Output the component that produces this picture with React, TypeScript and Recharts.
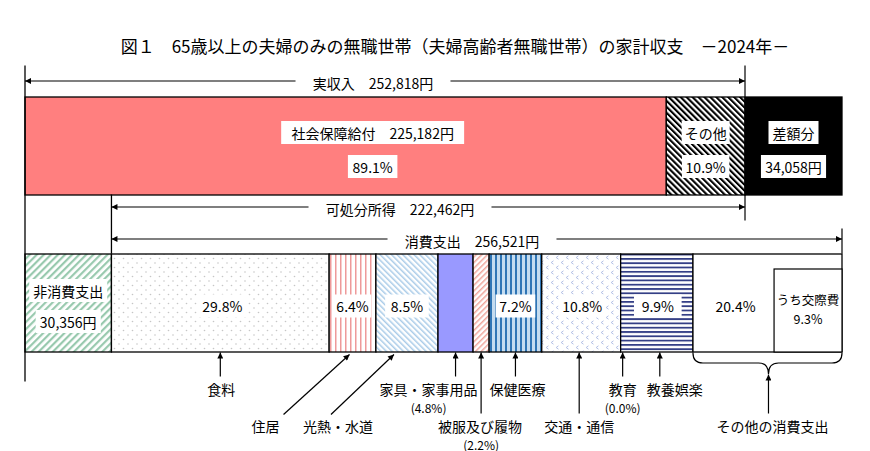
import React from "react"
import { BarChart, Bar, XAxis, YAxis } from "recharts"

// ---- data (円 / %) ----
const realIncome = 252818
const incomeNames = ["社会保障給付", "その他", "差額分"]
const incomeValues = [225182, 27636, 34058]
const incomeShares = [89.1, 10.9]
const disposableIncome = 222462

const nonConsumption = 30356
const consumption = 256521
const consumptionNames = [
  "食料",
  "住居",
  "光熱・水道",
  "家具・家事用品",
  "被服及び履物",
  "保健医療",
  "交通・通信",
  "教育",
  "教養娯楽",
  "その他の消費支出"
]
const consumptionShares = [29.8, 6.4, 8.5, 4.8, 2.2, 7.2, 10.8, 0.0, 9.9, 20.4]
const socialExpenseShare = 9.3 // うち交際費

const title = "図１　65歳以上の夫婦のみの無職世帯（夫婦高齢者無職世帯）の家計収支　－2024年－"

// ---- layout ----
const W = 870
const H = 451
const MARGIN = { top: 67, right: 28, bottom: 70, left: 25 }
const BAR_SIZE = 98
const FONT = "'Noto Sans CJK JP', 'Noto Sans', sans-serif"

const incomeKeys = incomeValues.map((_, i) => `inc${i}`)
const spendKeys = ["non", ...consumptionShares.map((_, i) => `c${i}`)]
const consumptionValues = consumptionShares.map((s) => (s / 100) * consumption)

const incomeRow: any = { row: "収入" }
incomeKeys.forEach((k, i) => (incomeRow[k] = incomeValues[i]))
const spendRow: any = { row: "支出", non: nonConsumption }
consumptionValues.forEach((v, i) => (spendRow[`c${i}`] = v))
const rows = [incomeRow, spendRow]

const TOTAL = Math.max(
  incomeValues.reduce((a, b) => a + b, 0),
  nonConsumption + consumptionValues.reduce((a, b) => a + b, 0)
)

const PLOT_W = W - MARGIN.left - MARGIN.right
const BAND = (H - MARGIN.top - MARGIN.bottom) / 2
const TOP1 = MARGIN.top + (BAND - BAR_SIZE) / 2
const BOT1 = TOP1 + BAR_SIZE
const TOP2 = TOP1 + BAND
const BOT2 = TOP2 + BAR_SIZE
const xOf = (v: number) => MARGIN.left + (v / TOTAL) * PLOT_W

const fmt = (n: number) => Math.round(n).toLocaleString("en-US")
const pct = (n: number) => `${n.toFixed(1)}%`

const textW = (s: string, fs: number) =>
  [...s].reduce((a, ch) => {
    const c = ch.charCodeAt(0)
    if (c > 0x2e80) return a + fs
    if (ch === "," || ch === ".") return a + fs * 0.28
    if (ch === "%") return a + fs * 0.86
    if (ch === "(" || ch === ")") return a + fs * 0.34
    if (ch === " ") return a + fs * 0.25
    return a + fs * 0.56
  }, 0)

function BoxText({ cx, cy, text, size = 14, box = true, padX = 5, h = 23 }: any) {
  const w = textW(text, size) + padX * 2
  return (
    <g>
      {box && <rect x={cx - w / 2} y={cy - h / 2} width={w} height={h} fill="#fff" />}
      <text
        x={cx}
        y={cy}
        textAnchor="middle"
        dominantBaseline="central"
        fontSize={size}
        fontFamily={FONT}
        fill="#000"
      >
        {text}
      </text>
    </g>
  )
}

type Lbl = { text: string; dx?: number; dy: number; box?: boolean; padX?: number }

// labels inside each segment, dy from the bar top
const segLabels: Record<string, Lbl[]> = {
  inc0: [
    { text: `${incomeNames[0]}　${fmt(incomeValues[0])}円`, dx: 27, dy: 35.5, padX: 10 },
    { text: pct(incomeShares[0]), dx: 27, dy: 69.5 }
  ],
  inc1: [
    { text: incomeNames[1], dy: 35.5, padX: 3 },
    { text: pct(incomeShares[1]), dy: 69.5, padX: 4 }
  ],
  inc2: [
    { text: incomeNames[2], dy: 35.5, padX: 4 },
    { text: `${fmt(incomeValues[2])}円`, dy: 69.5, padX: 4 }
  ],
  non: [
    { text: "非消費支出", dy: 36.5, padX: 4 },
    { text: `${fmt(nonConsumption)}円`, dy: 67.5, padX: 4 }
  ],
  c0: [{ text: pct(consumptionShares[0]), dx: 2, dy: 52 }],
  c1: [{ text: pct(consumptionShares[1]), dy: 52, padX: 3 }],
  c2: [{ text: pct(consumptionShares[2]), dy: 52, padX: 6 }],
  c5: [{ text: pct(consumptionShares[5]), dy: 52, padX: 4 }],
  c6: [{ text: pct(consumptionShares[6]), dx: 1, dy: 52, padX: 4 }],
  c8: [{ text: pct(consumptionShares[8]), dx: 1, dy: 52, padX: 8 }]
}

const fills: Record<string, string> = {
  inc0: "#ff7f7f",
  inc1: "url(#pIncOther)",
  inc2: "#000",
  non: "url(#pNon)",
  c0: "url(#pFood)",
  c1: "url(#pHousing)",
  c2: "url(#pUtil)",
  c3: "#9999ff",
  c4: "url(#pCloth)",
  c5: "url(#pHealth)",
  c6: "url(#pTrans)",
  c7: "#ffffff",
  c8: "url(#pCulture)",
  c9: "#ffffff"
}

function makeShape(key: string) {
  return (p: any) => {
    const { x, y, width, height } = p
    if (!(width > 0) || !(height > 0)) return <g />
    const cx = x + width / 2
    let extra: React.ReactNode = null
    if (key === "c9") {
      const iw = width * (socialExpenseShare / consumptionShares[9])
      const ix = x + width - iw
      extra = (
        <g>
          <BoxText cx={(x + ix) / 2 + 2} cy={y + 52} text={pct(consumptionShares[9])} box={false} />
          <rect x={ix} y={y + 15} width={iw} height={height - 15} fill="#fff" stroke="#000" strokeWidth={1.2} />
          <BoxText cx={ix + iw / 2} cy={y + 45} text="うち交際費" size={12.5} box={false} />
          <BoxText cx={ix + iw / 2} cy={y + 64} text={pct(socialExpenseShare)} size={12.5} box={false} />
        </g>
      )
    }
    return (
      <g>
        <rect x={x} y={y} width={width} height={height} fill={fills[key]} stroke="#000" strokeWidth={1.3} />
        {(segLabels[key] || []).map((l, i) => (
          <BoxText key={i} cx={cx + (l.dx || 0)} cy={y + l.dy} text={l.text} padX={l.padX ?? 5} box={l.box ?? true} />
        ))}
        {extra}
      </g>
    )
  }
}

// callouts under the spending bar
const calloutLayout = [
  { kind: "short", dx: 0, lx: 1 },
  { kind: "diag", tip: -3, tail: -69, lx: -87 },
  { kind: "diag", tip: -13, tail: -76, lx: -69 },
  { kind: "short", dx: 0, lx: -27, sub: true },
  { kind: "long", dx: 0, lx: -1, sub: true },
  { kind: "short", dx: 0, lx: 2 },
  { kind: "long", dx: -2, lx: -2 },
  { kind: "short", dx: 2, lx: 2, sub: true },
  { kind: "short", dx: 3, lx: 18 },
  { kind: "brace", dx: 1, lx: 4 }
]

function DimLine({ x1, x2, y, label, lx }: any) {
  const w = textW(label, 14) + 34
  return (
    <g>
      <line x1={x1} x2={x2} y1={y} y2={y} stroke="#000" strokeWidth={1.2} markerStart="url(#arr)" markerEnd="url(#arr)" />
      <rect x={lx - w / 2} y={y - 9} width={w} height={18} fill="#fff" />
      <text x={lx} y={y + 2} textAnchor="middle" dominantBaseline="central" fontSize={14} fontFamily={FONT}>
        {label}
      </text>
    </g>
  )
}

function Overlay() {
  const xReal = xOf(realIncome)
  const xNon = xOf(nonConsumption)
  const xEnd = xOf(nonConsumption + consumption)
  let cum = nonConsumption
  const callouts = consumptionNames.map((name, i) => {
    const start = cum
    cum += consumptionValues[i]
    const cx = xOf(start + consumptionValues[i] / 2)
    const L: any = calloutLayout[i]
    const sub = L.sub ? `(${pct(consumptionShares[i])})` : null
    const line = (x1: number, y1: number, x2: number, y2: number) => (
      <line x1={x1} y1={y1} x2={x2} y2={y2} stroke="#000" strokeWidth={1.2} markerEnd="url(#arr)" />
    )
    if (L.kind === "short") {
      return (
        <g key={i}>
          {line(cx + L.dx, BOT2 + 25, cx + L.dx, BOT2 + 1)}
          <BoxText cx={cx + L.lx} cy={BOT2 + 37} text={name} box={false} />
          {sub && <BoxText cx={cx + L.lx} cy={BOT2 + 56} text={sub} size={12} box={false} />}
        </g>
      )
    }
    if (L.kind === "long") {
      return (
        <g key={i}>
          {line(cx + L.dx, BOT2 + 62, cx + L.dx, BOT2 + 1)}
          <BoxText cx={cx + L.lx} cy={BOT2 + 74.5} text={name} box={false} />
          {sub && <BoxText cx={cx} cy={BOT2 + 92.5} text={sub} size={12} box={false} />}
        </g>
      )
    }
    if (L.kind === "diag") {
      return (
        <g key={i}>
          {line(cx + L.tail, BOT2 + 63, cx + L.tip, BOT2 + 3)}
          <BoxText cx={cx + L.lx} cy={BOT2 + 74.5} text={name} box={false} />
        </g>
      )
    }
    const x1 = xOf(start)
    const x2 = xOf(cum)
    const xm = cx + L.dx
    const y0 = BOT2 + 1.5
    const d = `M${x1},${y0} Q${x1},${y0 + 10} ${x1 + 10},${y0 + 10} L${xm - 10},${y0 + 10} Q${xm},${y0 + 10} ${xm},${y0 + 21} Q${xm},${y0 + 10} ${xm + 10},${y0 + 10} L${x2 - 10},${y0 + 10} Q${x2},${y0 + 10} ${x2},${y0}`
    return (
      <g key={i}>
        <path d={d} fill="none" stroke="#000" strokeWidth={1.2} />
        {line(xm, BOT2 + 62, xm, BOT2 + 23)}
        <BoxText cx={xm + L.lx} cy={BOT2 + 74.5} text={name} box={false} />
      </g>
    )
  })

  return (
    <svg width={W} height={H} style={{ position: "absolute", left: 0, top: 0, pointerEvents: "none" }}>
      <defs>
        <marker id="arr" viewBox="0 0 10 10" refX="10" refY="5" markerWidth="8" markerHeight="6" markerUnits="userSpaceOnUse" orient="auto-start-reverse">
          <path d="M0,0 L10,5 L0,10 z" fill="#000" />
        </marker>
      </defs>
      <text x={455} y={45} textAnchor="middle" dominantBaseline="central" fontSize={17} fontFamily={FONT}>
        {title}
      </text>
      {/* extension lines */}
      <line x1={MARGIN.left} x2={MARGIN.left} y1={TOP1 - 31} y2={BOT2 + 30} stroke="#000" strokeWidth={1.3} />
      <line x1={xReal} x2={xReal} y1={TOP1 - 31} y2={TOP1} stroke="#000" strokeWidth={1.2} />
      <line x1={xReal} x2={xReal} y1={BOT1} y2={BOT1 + 26} stroke="#000" strokeWidth={1.2} />
      <line x1={xNon} x2={xNon} y1={BOT1} y2={TOP2} stroke="#000" strokeWidth={1.3} />
      <line x1={xEnd} x2={xEnd} y1={TOP2 - 25} y2={TOP2} stroke="#000" strokeWidth={1.2} />
      <DimLine x1={MARGIN.left} x2={xReal} y={TOP1 - 15.5} label={`実収入　${fmt(realIncome)}円`} lx={373} />
      <DimLine x1={xNon} x2={xReal} y={BOT1 + 12.5} label={`可処分所得　${fmt(disposableIncome)}円`} lx={400} />
      <DimLine x1={xNon} x2={xEnd} y={TOP2 - 14.5} label={`消費支出　${fmt(consumption)}円`} lx={472} />
      {callouts}
    </svg>
  )
}

export default function App() {
  return (
    <div style={{ position: "absolute", left: 0, top: 0, width: W, height: H, background: "#fff", fontFamily: FONT }}>
      <BarChart width={W} height={H} data={rows} layout="vertical" margin={MARGIN} barSize={BAR_SIZE}>
        <defs>
          <pattern id="pIncOther" patternUnits="userSpaceOnUse" width={4.2} height={4.2} patternTransform="rotate(-45)">
            <rect width={4.2} height={4.2} fill="#fff" />
            <rect width={2.1} height={4.2} fill="#000" />
          </pattern>
          <pattern id="pNon" patternUnits="userSpaceOnUse" width={5} height={5} patternTransform="rotate(45)">
            <rect width={5} height={5} fill="#fff" />
            <rect width={2.2} height={5} fill="#98c9ae" />
          </pattern>
          <pattern id="pFood" patternUnits="userSpaceOnUse" width={9} height={9}>
            <rect width={9} height={9} fill="#fff" />
            <circle cx={2} cy={2} r={0.8} fill="#c6c6c6" />
            <circle cx={6.5} cy={6.5} r={0.8} fill="#c6c6c6" />
          </pattern>
          <pattern id="pHousing" patternUnits="userSpaceOnUse" width={5} height={5}>
            <rect width={5} height={5} fill="#fff" />
            <rect width={1.5} height={5} fill="#ee9a9a" />
          </pattern>
          <pattern id="pUtil" patternUnits="userSpaceOnUse" width={4} height={4} patternTransform="rotate(-45)">
            <rect width={4} height={4} fill="#fff" />
            <rect width={1.5} height={4} fill="#a9cbe8" />
          </pattern>
          <pattern id="pCloth" patternUnits="userSpaceOnUse" width={4} height={4} patternTransform="rotate(45)">
            <rect width={4} height={4} fill="#fff" />
            <rect width={1.5} height={4} fill="#f0a59c" />
          </pattern>
          <pattern id="pHealth" patternUnits="userSpaceOnUse" width={5} height={5}>
            <rect width={5} height={5} fill="#c4dcf0" />
            <rect width={2} height={5} fill="#2f75b5" />
          </pattern>
          <pattern id="pTrans" patternUnits="userSpaceOnUse" width={10} height={10}>
            <rect width={10} height={10} fill="#fff" />
            <path d="M3.5,0.8 L1.2,2.5 L3.5,4.2" fill="none" stroke="#aab8e2" strokeWidth={0.9} />
            <path d="M8.5,5.8 L6.2,7.5 L8.5,9.2" fill="none" stroke="#aab8e2" strokeWidth={0.9} />
          </pattern>
          <pattern id="pCulture" patternUnits="userSpaceOnUse" width={4} height={4.3}>
            <rect width={4} height={4.3} fill="#fff" />
            <rect width={4} height={1.8} fill="#343f86" />
          </pattern>
        </defs>
        <XAxis type="number" domain={[0, TOTAL]} hide />
        <YAxis type="category" dataKey="row" hide />
        {[...incomeKeys, ...spendKeys].map((k) => (
          <Bar key={k} dataKey={k} stackId="s" fill={fills[k]} isAnimationActive={false} shape={makeShape(k)} />
        ))}
      </BarChart>
      <Overlay />
    </div>
  )
}
